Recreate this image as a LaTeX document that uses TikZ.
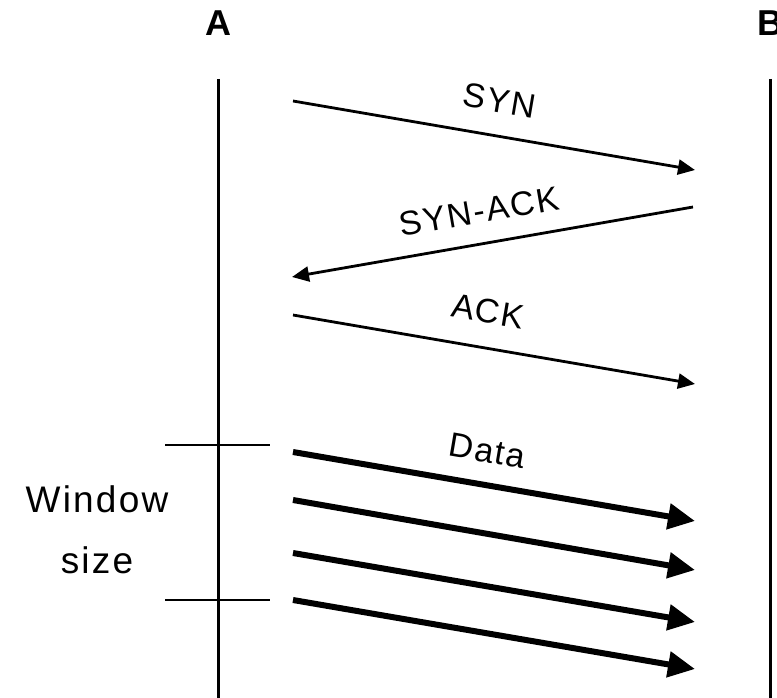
\documentclass[tikz,border=0pt]{standalone}
\usepackage{fontspec}
\setmainfont{Liberation Sans}
\newfontfamily\lblfont[LetterSpace=5]{Liberation Sans}
\newfontfamily\sidefont[LetterSpace=6]{Liberation Sans}
\usetikzlibrary{arrows.meta}

\tikzset{
  lifeline/.style={line width=3pt, line cap=butt},
  tickmark/.style={line width=2.8pt},
  msg/.style={line width=2.8pt, -{Triangle[length=17pt,width=15pt]}},
  datamsg/.style={line width=6pt, -{Triangle[length=27pt,width=25pt]}},
  party/.style={font=\fontsize{36}{40}\selectfont\bfseries, anchor=base, inner sep=0pt},
  msglabel/.style={font=\lblfont\fontsize{34}{38}\selectfont, sloped, inner sep=0pt},
  sidelabel/.style={font=\sidefont\fontsize{37}{41}\selectfont, anchor=base, inner sep=0pt}
}

\begin{document}
\begin{tikzpicture}[x=1pt, y=-1pt]
  \useasboundingbox (0,0) rectangle (777,698);

  % parties
  \node[party] (A) at (218,36) {A};
  \node[party] (B) at (770,36) {B};

  % lifelines
  \coordinate (Atop) at (218,79);
  \coordinate (Abot) at (218,698);
  \coordinate (Btop) at (770,79);
  \coordinate (Bbot) at (770,698);
  \draw[lifeline] (Atop) -- (Abot);
  \draw[lifeline] (Btop) -- (Bbot);

  % handshake endpoints
  \coordinate (synS) at (293,101);
  \coordinate (synE) at (695,170);
  \coordinate (sackS) at (693,207);
  \coordinate (sackE) at (292,277);
  \coordinate (ackS) at (293,315);
  \coordinate (ackE) at (695,384);

  \draw[msg] (synS) -- node[msglabel, pos=0.5, above=22pt] (synL) {SYN} (synE);
  \draw[msg] (sackS) -- node[msglabel, pos=0.52, above=19pt] (sackL) {SYN-ACK} (sackE);
  \draw[msg] (ackS) -- node[msglabel, pos=0.47, above=23pt] (ackL) {ACK} (ackE);

  % data segments
  \coordinate (d1S) at (293,452);
  \coordinate (d1E) at (695,521);
  \coordinate (d2S) at (293,500);
  \coordinate (d2E) at (695,570);
  \coordinate (d3S) at (293,553);
  \coordinate (d3E) at (695,622);
  \coordinate (d4S) at (293,600);
  \coordinate (d4E) at (695,669);

  \draw[datamsg] (d1S) -- node[msglabel, pos=0.47, above=19pt] (dataL) {Data} (d1E);
  \draw[datamsg] (d2S) -- (d2E);
  \draw[datamsg] (d3S) -- (d3E);
  \draw[datamsg] (d4S) -- (d4E);

  % window marks
  \coordinate (w1L) at (165,445);
  \coordinate (w1R) at (270,445);
  \coordinate (w2L) at (165,600);
  \coordinate (w2R) at (270,600);
  \draw[tickmark] (w1L) -- (w1R);
  \draw[tickmark] (w2L) -- (w2R);

  \node[sidelabel] (win) at (97,512) {Window};
  \node[sidelabel] (sz) at (97,573) {size};
\end{tikzpicture}
\end{document}
